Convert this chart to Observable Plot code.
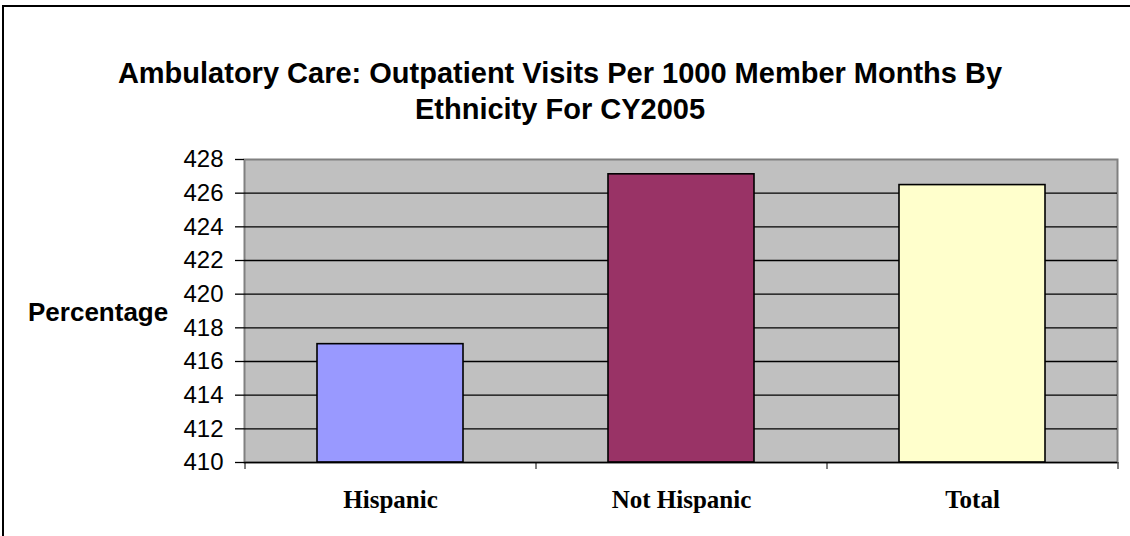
<!DOCTYPE html>
<html><head><meta charset="utf-8">
<script src="https://cdn.jsdelivr.net/npm/d3@7"></script>
<script src="https://cdn.jsdelivr.net/npm/@observablehq/plot@0.6"></script>
<style>
body{margin:0;background:#fff;}
#wrap{position:relative;width:1130px;height:536px;overflow:hidden;background:#fff;}
#border{position:absolute;left:2px;top:5px;width:1200px;height:600px;border-left:2px solid #000;border-top:2px solid #000;}
#title{position:absolute;left:0;top:55px;width:1120px;text-align:center;font:bold 29px "Liberation Sans",Arial,sans-serif;line-height:36px;color:#000;}
#ylabel{position:absolute;left:28px;top:297px;font:bold 26px "Liberation Sans",Arial,sans-serif;line-height:30px;color:#000;}
#chart{position:absolute;left:0;top:130px;}
</style></head>
<body>
<div id="wrap">
<div id="border"></div>
<div id="title">Ambulatory Care: Outpatient Visits Per 1000 Member Months By<br>Ethnicity For CY2005</div>
<div id="ylabel">Percentage</div>
<div id="chart"></div>
</div>
<script>
const categories = ["Hispanic", "Not Hispanic", "Total"];
const values = [417.03, 427.12, 426.48];
const colors = ["#9999ff", "#993366", "#ffffcc"];
const yTicks = [410, 412, 414, 416, 418, 420, 422, 424, 426, 428];

const data = categories.map((c, i) => ({category: c, value: values[i], color: colors[i]}));

const W = 1130, H = 406, mL = 244, mR = 13, mT = 29, mB = 74;
const step = (W - mL - mR) / categories.length;

const chart = Plot.plot({
  width: W, height: H,
  marginLeft: mL, marginRight: mR, marginTop: mT, marginBottom: mB,
  style: {background: "transparent", overflow: "visible", fontFamily: "'Liberation Sans', Arial, sans-serif", fontSize: "24px", color: "#000"},
  x: {domain: categories, paddingInner: 0.5, paddingOuter: 0.25, label: null},
  y: {domain: [410, 428], label: null},
  marks: [
    Plot.frame({fill: "#c0c0c0", stroke: "#808080", strokeWidth: 2}),
    Plot.gridY(yTicks.slice(1, -1), {stroke: "#000", strokeOpacity: 1, strokeWidth: 1.3}),
    Plot.barY(data, {x: "category", y1: 410, y2: "value", fill: "color", stroke: "#000", strokeWidth: 1.6}),
    Plot.ruleY([410], {stroke: "#000", strokeWidth: 1.6}),
    Plot.axisY(yTicks, {tickSize: 9, tickPadding: 12, fontSize: 24, stroke: "#000", strokeWidth: 1.3}),
    Plot.axisX(categories, {tickSize: 7, tickFormat: () => "", dx: -step / 2, stroke: "#000"}),
    Plot.axisX(categories.slice(-1), {tickSize: 7, tickFormat: () => "", dx: step / 2, stroke: "#000"}),
    Plot.axisX(categories, {tickSize: 0, tickPadding: 28, fontSize: 25, fontWeight: "bold", fontFamily: "'Liberation Serif', 'Times New Roman', serif"})
  ]
});
document.getElementById("chart").appendChild(chart);
</script>
</body></html>
